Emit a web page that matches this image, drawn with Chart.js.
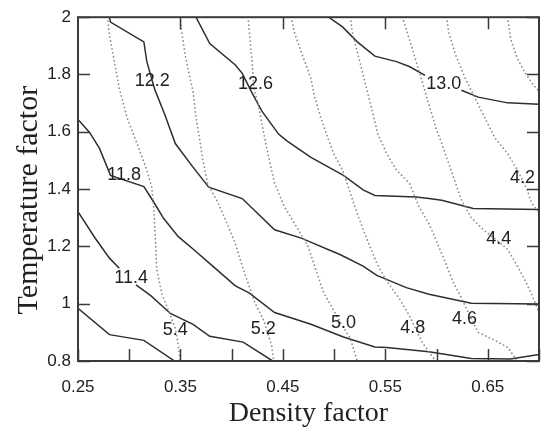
<!DOCTYPE html>
<html>
<head>
<meta charset="utf-8">
<script src="https://cdn.jsdelivr.net/npm/chart.js@4.4.1/dist/chart.umd.min.js"></script>
<style>
  html, body { margin: 0; padding: 0; background: #fff; }
  #wrap { width: 555px; height: 430px; }
</style>
</head>
<body>
<div id="wrap"><canvas id="chart" width="555" height="430"></canvas></div>
<script>
// Axis ticks
const xTicks = [0.25, 0.30, 0.35, 0.40, 0.45, 0.50, 0.55, 0.60, 0.65, 0.70];
const xTickLabels = ["0.25", "", "0.35", "", "0.45", "", "0.55", "", "0.65", ""];
const xTopTicks = [0.35, 0.45, 0.55, 0.65];
const yTicks = [0.8, 1.0, 1.2, 1.4, 1.6, 1.8, 2.0];
const yTickLabels = ["0.8", "1", "1.2", "1.4", "1.6", "1.8", "2"];

// Solid contours: [density factor, temperature factor]; y = null breaks the line at a label
const solid110 = [[0.25, 0.984], [0.2807, 0.892], [0.3143, 0.872], [0.3443, 0.80]];
const solid114 = [[0.25, 1.321], [0.2663, 1.231], [0.2807, 1.159], [0.2903, 1.124], [0.298, null],
  [0.3066, 1.066], [0.3210, 1.028], [0.3402, 0.966], [0.3623, 0.928], [0.3786, 0.886], [0.4112, 0.866], [0.44, 0.80]];
const solid118 = [[0.25, 1.643], [0.2615, 1.597], [0.2711, 1.541], [0.2817, 1.448], [0.3143, 1.409], [0.3239, 1.355],
  [0.3335, 1.298], [0.3479, 1.234], [0.3623, 1.191], [0.3815, 1.131], [0.4036, 1.062], [0.4170, 1.038], [0.4419, 0.969],
  [0.4774, 0.928], [0.5091, 0.884], [0.5398, 0.849], [0.5513, 0.847], [0.5926, 0.832], [0.6339, 0.809], [0.6722, 0.807], [0.70, 0.823]];
const solid122 = [[0.2807, 2.0], [0.2817, 1.983], [0.3143, 1.914], [0.3172, 1.845], [0.3249, 1.748], [0.3345, 1.662],
  [0.3450, 1.559], [0.3613, 1.481], [0.3776, 1.407], [0.4103, 1.367], [0.4419, 1.258], [0.4679, 1.229], [0.5062, 1.171],
  [0.5283, 1.131], [0.5417, 1.099], [0.5705, 1.056], [0.5926, 1.033], [0.6339, 1.002], [0.70, 0.999]];
const solid126 = [[0.3652, 2.0], [0.3786, 1.908], [0.4036, 1.833], [0.4103, 1.804], [0.4199, 1.736], [0.4295, 1.672],
  [0.4458, 1.592], [0.4535, 1.569], [0.4774, 1.511], [0.5091, 1.448], [0.5283, 1.397], [0.5398, 1.378], [0.5801, 1.372],
  [0.5926, 1.367], [0.6051, 1.361], [0.6358, 1.332], [0.70, 1.329]];
const solid130 = [[0.4947, 2.0], [0.5082, 1.966], [0.5226, 1.914], [0.5398, 1.864], [0.5609, 1.845], [0.5734, 1.828],
  [0.5888, 1.797], [0.606, null], [0.6243, 1.745], [0.6406, 1.721], [0.6694, 1.701], [0.70, 1.696]];

// Dotted contours
const dot54 = [[0.2788, 2.0], [0.2807, 1.938], [0.2855, 1.845], [0.2903, 1.752], [0.2980, 1.648], [0.3076, 1.559],
  [0.3162, 1.476], [0.3220, 1.407], [0.3239, 1.338], [0.3258, 1.210], [0.3268, 1.121], [0.3316, 1.038], [0.3383, 0.976],
  [0.3450, 0.914], [0.3479, 0.855], [0.3498, 0.80]];
const dot52 = [[0.3498, 2.0], [0.3508, 1.959], [0.3546, 1.869], [0.3594, 1.786], [0.3623, 1.741], [0.3652, 1.648],
  [0.3690, 1.569], [0.3719, 1.500], [0.3767, 1.417], [0.3863, 1.355], [0.3940, 1.293], [0.4036, 1.210], [0.4103, 1.131],
  [0.4170, 1.062], [0.4227, 1.003], [0.4314, 0.941], [0.4390, 0.855], [0.4410, 0.80]];
const dot50 = [[0.4160, 2.0], [0.4179, 1.924], [0.4199, 1.845], [0.4218, 1.752], [0.4266, 1.683], [0.4314, 1.593],
  [0.4362, 1.510], [0.4419, 1.421], [0.4515, 1.338], [0.4650, 1.259], [0.4746, 1.200], [0.4842, 1.097], [0.4899, 1.038],
  [0.4986, 0.983], [0.5062, 0.934], [0.5158, 0.879], [0.5226, 0.80]];
const dot48 = [[0.4583, 2.0], [0.4611, 1.948], [0.4679, 1.879], [0.4774, 1.786], [0.4803, 1.731], [0.4871, 1.648],
  [0.4938, 1.579], [0.4995, 1.524], [0.5082, 1.466], [0.5139, 1.407], [0.5226, 1.314], [0.5322, 1.224], [0.5417, 1.141],
  [0.5513, 1.079], [0.5638, 1.017], [0.5734, 0.959], [0.5859, 0.866], [0.5926, 0.831], [0.5993, 0.80]];
const dot46 = [[0.5158, 2.0], [0.5178, 1.948], [0.5226, 1.879], [0.5283, 1.800], [0.5331, 1.731], [0.5379, 1.662],
  [0.5427, 1.593], [0.5513, 1.524], [0.5609, 1.466], [0.5734, 1.421], [0.5830, 1.338], [0.5926, 1.279], [0.5993, 1.224],
  [0.6089, 1.141], [0.6166, 1.072], [0.6233, 1.028], [0.6291, 0.983], [0.6406, 0.900], [0.6569, 0.872], [0.6694, 0.848],
  [0.6761, 0.814], [0.6780, 0.80]];
const dot44 = [[0.5667, 2.0], [0.5734, 1.924], [0.5801, 1.845], [0.5859, 1.776], [0.5907, 1.717], [0.5993, 1.614],
  [0.6051, 1.559], [0.6118, 1.490], [0.6185, 1.421], [0.6243, 1.362], [0.6339, 1.300], [0.6454, 1.259], [0.6579, 1.224],
  [0.6694, 1.190], [0.6790, 1.131], [0.6857, 1.086], [0.6934, 1.028], [0.6982, 0.986], [0.70, 0.969]];
const dot42 = [[0.6099, 2.0], [0.6118, 1.948], [0.6185, 1.869], [0.6281, 1.786], [0.6377, 1.717], [0.6473, 1.648],
  [0.6569, 1.579], [0.6694, 1.524], [0.6790, 1.466], [0.6886, 1.397], [0.6915, 1.362], [0.6953, 1.338], [0.70, 1.321]];
const dot40 = [[0.6694, 2.0], [0.6723, 1.924], [0.6790, 1.855], [0.6857, 1.810], [0.6934, 1.769], [0.70, 1.741]];

// Contour labels
const labelText = ["11.4", "11.8", "12.2", "12.6", "13.0", "5.4", "5.2", "5.0", "4.8", "4.6", "4.4", "4.2"];
const labelX = [0.3018, 0.2951, 0.3225, 0.4232, 0.607, 0.345, 0.4309, 0.5091, 0.5768, 0.6272, 0.6607, 0.6838];
const labelY = [1.090, 1.450, 1.776, 1.767, 1.767, 0.907, 0.912, 0.933, 0.916, 0.945, 1.226, 1.440];

const TICK_LEN = 12;
const SANS = "'Liberation Sans', Arial, sans-serif";
const SERIF = "'Liberation Serif', 'Times New Roman', serif";

function toPoints(arr) {
  return arr.map(p => ({ x: p[0], y: p[1] }));
}

// labels, frame, inward ticks and the y title
const decorPlugin = {
  id: "decor",
  afterDatasetsDraw(chart) {
    const { ctx, chartArea: a } = chart;
    const x = chart.scales.x, y = chart.scales.y;
    ctx.save();
    ctx.font = "18px " + SANS;
    ctx.fillStyle = "#222";
    ctx.textAlign = "center";
    ctx.textBaseline = "middle";
    labelText.forEach((t, i) => {
      ctx.fillText(t, x.getPixelForValue(labelX[i]), y.getPixelForValue(labelY[i]));
    });

    ctx.strokeStyle = "#3a3a3a";
    ctx.lineWidth = 1.5;
    ctx.beginPath();
    xTicks.forEach(v => {
      const px = Math.round(x.getPixelForValue(v)) + 0.5;
      ctx.moveTo(px, a.bottom);
      ctx.lineTo(px, a.bottom - TICK_LEN);
    });
    xTopTicks.forEach(v => {
      const px = Math.round(x.getPixelForValue(v)) + 0.5;
      ctx.moveTo(px, a.top);
      ctx.lineTo(px, a.top + TICK_LEN);
    });
    yTicks.forEach(v => {
      const py = Math.round(y.getPixelForValue(v)) + 0.5;
      ctx.moveTo(a.left, py);
      ctx.lineTo(a.left + TICK_LEN, py);
      ctx.moveTo(a.right, py);
      ctx.lineTo(a.right - TICK_LEN, py);
    });
    ctx.stroke();

    ctx.lineWidth = 2;
    ctx.strokeRect(a.left, a.top, a.right - a.left, a.bottom - a.top);

    // y axis title, a bit below the middle as in the original
    ctx.translate(29, (a.top + a.bottom) / 2 + 11);
    ctx.rotate(-Math.PI / 2);
    ctx.font = "30px " + SERIF;
    ctx.fillText("Temperature factor", 0, 0);
    ctx.restore();
  }
};

const solidLines = [solid110, solid114, solid118, solid122, solid126, solid130];
const dottedLines = [dot54, dot52, dot50, dot48, dot46, dot44, dot42, dot40];

const datasets = [
  ...dottedLines.map(l => ({
    data: toPoints(l), showLine: true, pointRadius: 0, borderColor: "#8c8c8c", borderWidth: 1.8,
    borderDash: [0, 4], borderCapStyle: "round", fill: false, tension: 0
  })),
  ...solidLines.map(l => ({
    data: toPoints(l), showLine: true, pointRadius: 0, borderColor: "#2e2e2e", borderWidth: 1.5,
    fill: false, tension: 0, spanGaps: false
  }))
];

new Chart(document.getElementById("chart"), {
  type: "scatter",
  data: { datasets },
  plugins: [decorPlugin],
  options: {
    responsive: false,
    animation: false,
    events: [],
    layout: { padding: { left: 0, right: 8, top: 13, bottom: 0 } },
    plugins: { legend: { display: false }, tooltip: { enabled: false } },
    scales: {
      x: {
        type: "linear", min: 0.25, max: 0.70,
        afterBuildTicks: s => { s.ticks = xTicks.map(v => ({ value: v })); },
        afterFit: s => { s.height = 69; },
        grid: { display: false, drawTicks: false },
        border: { display: false },
        ticks: {
          autoSkip: false, maxRotation: 0, padding: 16, color: "#222",
          font: { family: SANS, size: 17 },
          callback: (v, i) => xTickLabels[i]
        },
        title: { display: true, text: "Density factor", color: "#222",
          font: { family: SERIF, size: 28 }, padding: { top: 0, bottom: 0 } }
      },
      y: {
        type: "linear", min: 0.8, max: 2.0,
        afterBuildTicks: s => { s.ticks = yTicks.map(v => ({ value: v })); },
        afterFit: s => { s.width = 78; },
        grid: { display: false, drawTicks: false },
        border: { display: false },
        ticks: {
          autoSkip: false, padding: 7, color: "#222",
          font: { family: SANS, size: 17 },
          callback: (v, i) => yTickLabels[i]
        },
        title: { display: false }
      }
    }
  }
});
</script>
</body>
</html>
